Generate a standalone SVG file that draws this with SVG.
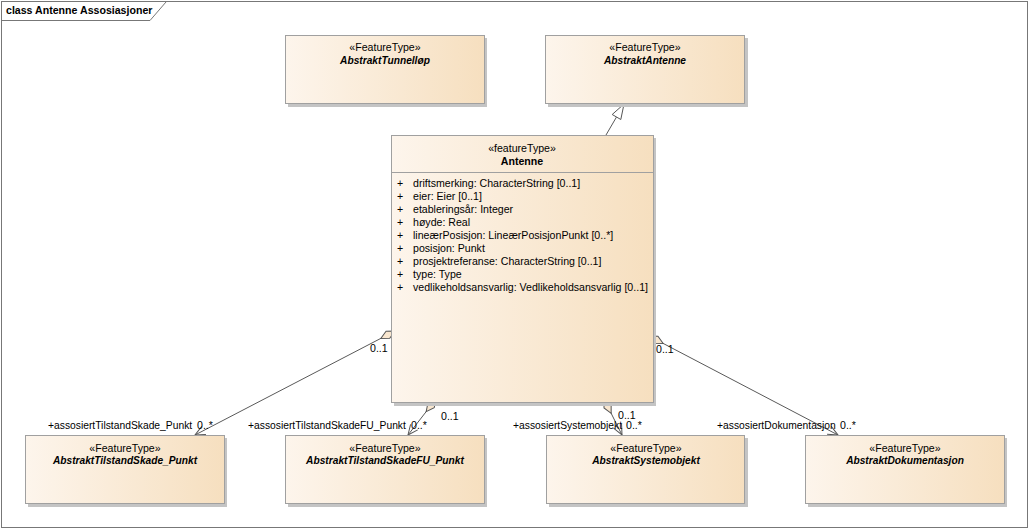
<svg xmlns="http://www.w3.org/2000/svg" width="1030" height="530" viewBox="0 0 1030 530">
<defs>
<linearGradient id="g" x1="0" y1="0" x2="1" y2="0">
<stop offset="0" stop-color="#FDF5EC"/>
<stop offset="1" stop-color="#F6DFBF"/>
</linearGradient>
<marker id="dia" markerUnits="userSpaceOnUse" markerWidth="20" markerHeight="12" viewBox="-1 -6 20 12" refX="0" refY="0" orient="auto">
<path d="M0,0 L8,-4 L16,0 L8,4 Z" fill="#F8E6CF" stroke="#555" stroke-width="1"/>
</marker>
<marker id="arr" markerUnits="userSpaceOnUse" markerWidth="14" markerHeight="12" viewBox="-12 -6 14 12" refX="0" refY="0" orient="auto">
<path d="M-10,-4.5 L0,0 L-10,4.5" fill="none" stroke="#555" stroke-width="1"/>
</marker>
</defs>
<style>
.box{fill:url(#g);stroke:#A0A0A0;stroke-width:1}
.sh{fill:#C4C4C4}
.t{font-family:"Liberation Sans",Arial,sans-serif;font-size:10.6px;fill:#000}
.r{font-size:10.3px}
.st{text-anchor:middle}
.nm{text-anchor:middle;font-weight:bold;font-style:italic;font-size:10.2px}
.conn{fill:none;stroke:#595959;stroke-width:1}
</style>
<rect x="0" y="0" width="1030" height="530" fill="#fff"/>
<g id="frame">
<rect x="1.5" y="1.5" width="1026" height="526" fill="none" stroke="#777" stroke-width="1"/>
<path d="M1.5,20.5 H150 L166,2" fill="none" stroke="#777" stroke-width="1"/>
<text class="t" x="6" y="14" font-weight="bold" font-size="11px">class Antenne Assosiasjoner</text>
</g>
<g id="connectors">
<path class="conn" d="M606,135 L616.5,117"/>
<path d="M624,104 L620.8,119.5 L612.2,114.5 Z" fill="#fff" stroke="#555" stroke-width="1"/>
<path class="conn" d="M395,331 L195,435" marker-start="url(#dia)" marker-end="url(#arr)"/>
<path class="conn" d="M436,399 L408,435" marker-start="url(#dia)" marker-end="url(#arr)"/>
<path class="conn" d="M604,399 L622,435" marker-start="url(#dia)" marker-end="url(#arr)"/>
<path class="conn" d="M649,336 L838,435" marker-start="url(#dia)" marker-end="url(#arr)"/>
<text class="t" x="370" y="352">0..1</text>
<text class="t r" x="48" y="429">+assosiertTilstandSkade_Punkt</text>
<text class="t" x="197" y="429">0..*</text>
<text class="t r" x="248" y="429">+assosiertTilstandSkadeFU_Punkt</text>
<text class="t" x="411" y="429">0..*</text>
<text class="t" x="441" y="420">0..1</text>
<text class="t" x="618" y="419">0..1</text>
<text class="t r" x="513" y="429">+assosiertSystemobjekt</text>
<text class="t" x="626" y="429">0..*</text>
<text class="t r" x="717" y="429">+assosiertDokumentasjon</text>
<text class="t" x="840" y="429">0..*</text>
<text class="t" x="656" y="353">0..1</text>
</g>
<g id="AbstraktTunnellop">
<rect class="sh" x="288" y="38" width="199" height="69"/>
<rect class="box" x="285.5" y="35.5" width="199" height="68"/>
<text class="t st" x="385" y="51">«FeatureType»</text>
<text class="t nm" x="385" y="64">AbstraktTunnelløp</text>
</g>
<g id="AbstraktAntenne">
<rect class="sh" x="548" y="38" width="200" height="69"/>
<rect class="box" x="545.5" y="35.5" width="199" height="68"/>
<text class="t st" x="645" y="51">«FeatureType»</text>
<text class="t nm" x="645" y="64">AbstraktAntenne</text>
</g>
<g id="Antenne">
<rect class="sh" x="394" y="138" width="262" height="268"/>
<rect class="box" x="391.5" y="135.5" width="262" height="267"/>
<line x1="391.5" y1="172.5" x2="653.5" y2="172.5" stroke="#A0A0A0"/>
<text class="t st" x="522" y="152">«featureType»</text>
<text class="t st" x="522" y="165" font-weight="bold">Antenne</text>
<g class="t">
<text x="397" y="187">+</text><text x="413" y="187">driftsmerking: CharacterString [0..1]</text>
<text x="397" y="200">+</text><text x="413" y="200">eier: Eier [0..1]</text>
<text x="397" y="213">+</text><text x="413" y="213">etableringsår: Integer</text>
<text x="397" y="226">+</text><text x="413" y="226">høyde: Real</text>
<text x="397" y="239">+</text><text x="413" y="239">lineærPosisjon: LineærPosisjonPunkt [0..*]</text>
<text x="397" y="252">+</text><text x="413" y="252">posisjon: Punkt</text>
<text x="397" y="265">+</text><text x="413" y="265">prosjektreferanse: CharacterString [0..1]</text>
<text x="397" y="278">+</text><text x="413" y="278">type: Type</text>
<text x="397" y="291">+</text><text x="413" y="291">vedlikeholdsansvarlig: Vedlikeholdsansvarlig [0..1]</text>
</g>
</g>
<g id="AbstraktTilstandSkade_Punkt">
<rect class="sh" x="28" y="438" width="199" height="69"/>
<rect class="box" x="25.5" y="435.5" width="199" height="68"/>
<text class="t st" x="125" y="452">«FeatureType»</text>
<text class="t nm" x="125" y="464">AbstraktTilstandSkade_Punkt</text>
</g>
<g id="AbstraktTilstandSkadeFU_Punkt">
<rect class="sh" x="288" y="438" width="199" height="69"/>
<rect class="box" x="285.5" y="435.5" width="199" height="68"/>
<text class="t st" x="385" y="452">«FeatureType»</text>
<text class="t nm" x="385" y="464">AbstraktTilstandSkadeFU_Punkt</text>
</g>
<g id="AbstraktSystemobjekt">
<rect class="sh" x="549" y="438" width="199" height="69"/>
<rect class="box" x="546.5" y="435.5" width="198" height="68"/>
<text class="t st" x="646" y="452">«FeatureType»</text>
<text class="t nm" x="646" y="464">AbstraktSystemobjekt</text>
</g>
<g id="AbstraktDokumentasjon">
<rect class="sh" x="808" y="438" width="199" height="69"/>
<rect class="box" x="805.5" y="435.5" width="199" height="68"/>
<text class="t st" x="905" y="452">«FeatureType»</text>
<text class="t nm" x="905" y="464">AbstraktDokumentasjon</text>
</g>
</svg>
